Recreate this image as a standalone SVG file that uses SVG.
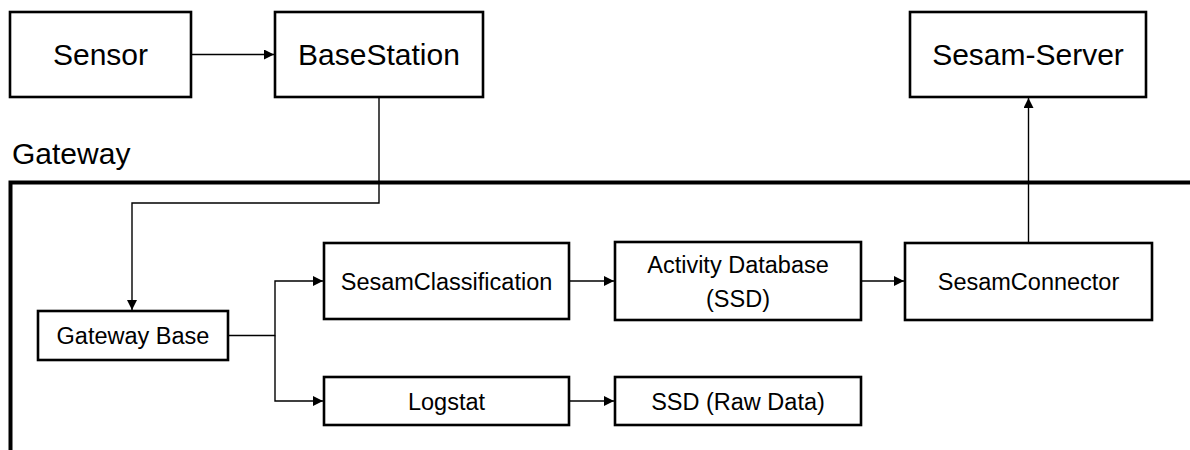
<svg xmlns="http://www.w3.org/2000/svg" width="1190" height="450" viewBox="0 0 1190 450">
<style>
  .box { fill: #ffffff; stroke: #000000; stroke-width: 2.6; }
  .big { font-family: "Liberation Sans", Arial, sans-serif; font-size: 30px; fill: #000; text-anchor: middle; }
  .small { font-family: "Liberation Sans", Arial, sans-serif; font-size: 23.5px; fill: #000; text-anchor: middle; }
  .conn { fill: none; stroke: #000000; stroke-width: 1.4; marker-end: url(#arrow); }
  .frame { fill: none; stroke: #000000; stroke-width: 4; }
</style>
<defs>
  <marker id="arrow" viewBox="0 0 10 10" refX="10" refY="5" markerUnits="userSpaceOnUse" markerWidth="11" markerHeight="10" orient="auto">
    <path d="M0,0 L10,5 L0,10 Z" fill="#000000"/>
  </marker>
</defs>
<rect width="1190" height="450" fill="#ffffff"/>

<g id="gateway-frame">
  <path class="frame" d="M10.5,450 V182.5 H1190"/>
  <text x="12" y="164" font-family="'Liberation Sans', Arial, sans-serif" font-size="30" fill="#000">Gateway</text>
</g>

<g id="connectors">
  <path class="conn" d="M191,54.5 H274"/>
  <path class="conn" d="M379,98 V203 H132 V310"/>
  <path class="conn" d="M229,335.5 H275 V281 H323"/>
  <path class="conn" d="M275,335.5 V401 H323"/>
  <path class="conn" d="M570,281 H614"/>
  <path class="conn" d="M570,401 H614"/>
  <path class="conn" d="M862,281 H904"/>
  <path class="conn" d="M1028.5,242 V98"/>
</g>

<g id="sensor">
  <rect class="box" x="10" y="12" width="181" height="85"/>
  <text class="big" x="100.5" y="64.5">Sensor</text>
</g>
<g id="basestation">
  <rect class="box" x="275" y="12" width="208" height="85"/>
  <text class="big" x="379" y="64.5">BaseStation</text>
</g>
<g id="sesam-server">
  <rect class="box" x="910" y="12" width="236" height="85"/>
  <text class="big" x="1028" y="64.5">Sesam-Server</text>
</g>
<g id="gateway-base">
  <rect class="box" x="38" y="311" width="190" height="49"/>
  <text class="small" x="133" y="344">Gateway Base</text>
</g>
<g id="sesam-classification">
  <rect class="box" x="324" y="243" width="245" height="76"/>
  <text class="small" x="446.5" y="289.5">SesamClassification</text>
</g>
<g id="logstat">
  <rect class="box" x="324" y="377" width="245" height="48"/>
  <text class="small" x="446.5" y="409.5">Logstat</text>
</g>
<g id="activity-database">
  <rect class="box" x="615" y="242" width="246" height="78"/>
  <text class="small" x="738" y="273">Activity Database</text>
  <text class="small" x="738" y="307">(SSD)</text>
</g>
<g id="ssd-raw">
  <rect class="box" x="615" y="377" width="246" height="48"/>
  <text class="small" x="738" y="409.5">SSD (Raw Data)</text>
</g>
<g id="sesam-connector">
  <rect class="box" x="905" y="243" width="247" height="77"/>
  <text class="small" x="1028.5" y="289.5">SesamConnector</text>
</g>
</svg>
